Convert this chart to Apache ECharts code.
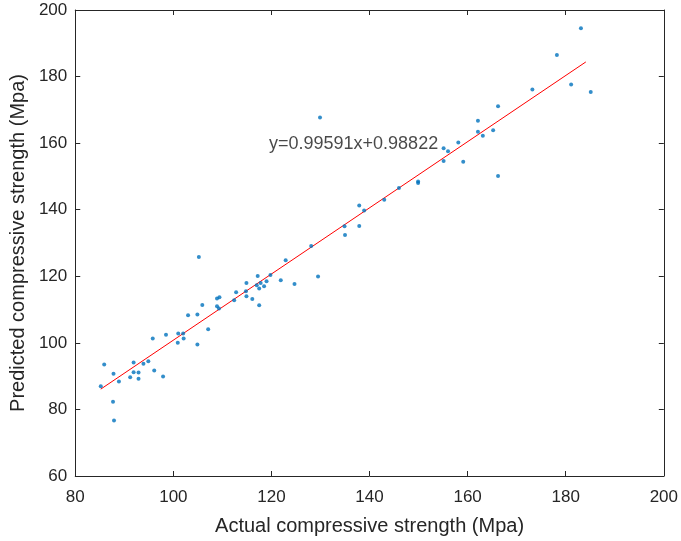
<!DOCTYPE html>
<html><head><meta charset="utf-8">
<script src="https://cdn.jsdelivr.net/npm/echarts@6/dist/echarts.min.js"></script>
<style>html,body{margin:0;padding:0;background:#fff}#c{width:681px;height:541px}</style>
</head><body><div id="c"></div>
<script>
const actual = [105.2,85.9,85.2,87.8,87.7,87.9,88.9,91.2,91.9,91.9,92.9,92.9,93.9,94.9,96.1,97.9,95.8,98.5,100.9,101.0,102.0,102.1,103.0,104.9,104.9,105.9,107.1,108.9,109.4,108.9,109.3,
  112.4,112.8,114.9,114.8,114.9,116.1,117.2,117.0,117.5,117.5,117.8,118.5,119.0,119.8,121.9,122.9,124.7,128.1,129.5,134.9,135.0,
  129.9,137.9,138.9,137.9,143.0,146.0,149.9,149.9,155.1,155.1,156.0,158.1,159.1,162.1,162.1,163.1,165.2,166.2,166.2,
  183.1,178.2,173.2,181.1,185.1];
const predicted = [125.8,93.5,87.0,90.7,82.3,76.7,88.4,89.7,94.1,91.2,91.1,89.2,93.7,94.5,91.7,89.9,101.3,102.4,100.0,102.8,102.8,101.3,108.3,108.5,99.5,111.4,104.1,113.3,113.7,111.0,110.3,
  112.8,115.2,118.0,115.5,114.0,113.2,120.1,117.3,116.3,111.3,118.0,117.0,118.5,120.4,118.8,124.8,117.7,129.1,119.9,135.0,132.4,
  167.7,141.3,139.8,135.1,143.0,146.5,148.5,148.0,158.5,154.6,157.6,160.2,154.4,166.7,163.4,162.2,163.9,171.1,150.1,
  194.5,186.5,176.1,177.6,175.4];
const fitX = [85.2, 184.1];
const fitY = [86.1, 184.4];
const fitLabel = 'y=0.99591x+0.98822';
const fitLabelPos = [119.5, 159.6];
const xTicks = [80,100,120,140,160,180,200];
const yTicks = [60,80,100,120,140,160,180,200];

const pts = actual.map((a,i)=>[a,predicted[i]]);
const FONT = '"Liberation Sans", Arial, sans-serif';
const axCol = '#262626';
const chart = echarts.init(document.getElementById('c'));
const xBase = {type:'value', min:xTicks[0], max:xTicks[xTicks.length-1], interval:20,
  axisLine:{show:true,onZero:false,lineStyle:{color:axCol,width:1}},
  axisTick:{show:true,inside:true,length:5,lineStyle:{color:axCol}},
  splitLine:{show:false}};
const yBase = {type:'value', min:yTicks[0], max:yTicks[yTicks.length-1], interval:20,
  axisLine:{show:true,onZero:false,lineStyle:{color:axCol,width:1}},
  axisTick:{show:true,inside:true,length:5,lineStyle:{color:axCol}},
  splitLine:{show:false}};
chart.setOption({
  animation:false,
  backgroundColor:'#fff',
  grid:{left:70,right:16,top:10,bottom:63,containLabel:false},
  xAxis:[
    Object.assign({}, xBase, {position:'bottom',
      axisLabel:{color:axCol,fontFamily:FONT,fontSize:17,margin:13},
      name:'Actual compressive strength (Mpa)', nameLocation:'middle', nameGap:40,
      nameTextStyle:{color:axCol,fontFamily:FONT,fontSize:20}}),
    Object.assign({}, xBase, {position:'top', axisLabel:{show:false}})
  ],
  yAxis:[
    Object.assign({}, yBase, {position:'left',
      axisLabel:{color:axCol,fontFamily:FONT,fontSize:17,margin:8},
      name:'Predicted compressive strength (Mpa)', nameLocation:'middle', nameGap:43,
      nameTextStyle:{color:axCol,fontFamily:FONT,fontSize:20}}),
    Object.assign({}, yBase, {position:'right', axisLabel:{show:false}})
  ],
  series:[
    {type:'scatter', data:pts, symbol:'circle', symbolSize:4,
      itemStyle:{color:'#0072BD'}, z:3},
    {type:'line', data:fitX.map((x,i)=>[x,fitY[i]]), symbol:'none',
      lineStyle:{color:'#FF0000',width:1}, z:2},
    {type:'scatter', data:[fitLabelPos], symbolSize:0, silent:true,
      label:{show:true, position:'right', distance:0, formatter:fitLabel,
        color:'#1a1a1a', fontFamily:FONT, fontSize:18}}
  ]
});
</script></body></html>
